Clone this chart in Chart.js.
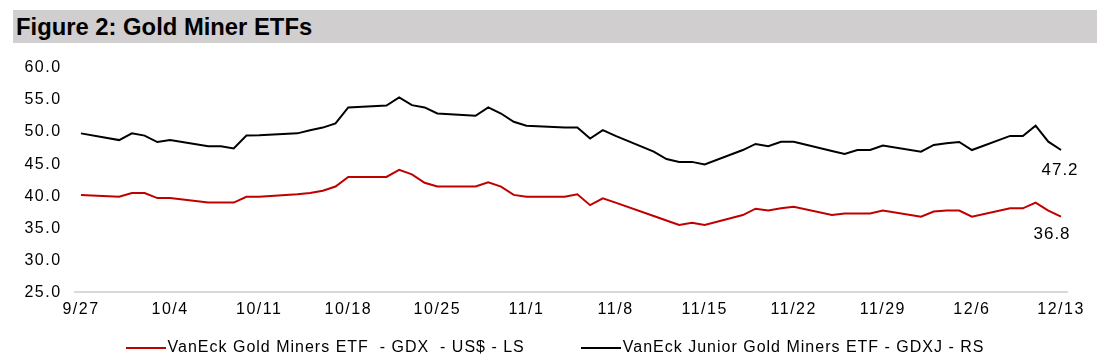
<!DOCTYPE html>
<html>
<head>
<meta charset="utf-8">
<script src="https://cdn.jsdelivr.net/npm/chart.js@4.4.1/dist/chart.umd.min.js"></script>
<style>
    html, body { margin: 0; padding: 0; background: #fff; }
    #wrap { position: relative; width: 1110px; height: 364px; overflow: hidden; }
    #title {
        position: absolute; left: 13px; top: 10px; width: 1084px; height: 33px;
        background: #d0cece; color: #000; box-sizing: border-box; padding-left: 3px;
        font: bold 23.8px "Liberation Sans", Arial, sans-serif; line-height: 34px;
    }
    #chart { position: absolute; left: 0; top: 0; }
    #legend {
        position: absolute; left: 0; top: 338px; width: 1110px; text-align: center;
        font: 16px "Liberation Sans", Arial, sans-serif; color: #000; white-space: pre;
        letter-spacing: 1px;
    }
    .item { display: inline-block; margin: 0 28px; }
    .swatch { display: inline-block; width: 40px; height: 2px; vertical-align: middle; margin-right: 2px; }
</style>
</head>
<body>
<div id="wrap">
    <canvas id="chart" width="1110" height="364"></canvas>
    <div id="title">Figure 2: Gold Miner ETFs</div>
    <div id="legend"></div>
</div>
<script>
// trading days shown (2024)
const dates = [
    '9/27', '9/30', '10/1', '10/2', '10/3', '10/4', '10/7', '10/8', '10/9', '10/10', '10/11',
    '10/14', '10/15', '10/16', '10/17', '10/18', '10/21', '10/22', '10/23', '10/24', '10/25',
    '10/28', '10/29', '10/30', '10/31', '11/1', '11/4', '11/5', '11/6', '11/7', '11/8',
    '11/11', '11/12', '11/13', '11/14', '11/15', '11/18', '11/19', '11/20', '11/21', '11/22',
    '11/25', '11/26', '11/27', '11/28', '11/29', '12/2', '12/3', '12/4', '12/5', '12/6',
    '12/9', '12/10', '12/11', '12/12', '12/13'
];

const gdx = [
    40.2, 39.9, 40.5, 40.5, 39.7, 39.7, 39.0, 39.0, 39.0, 39.9, 39.9,
    40.3, 40.5, 40.85, 41.5, 43.0, 43.0, 44.1, 43.4, 42.1, 41.5,
    41.5, 42.15, 41.5, 40.2, 39.9, 39.9, 40.3, 38.6, 39.65, 39.0,
    36.9, 36.2, 35.5, 35.85, 35.5, 37.05, 38.05, 37.75, 38.1, 38.35,
    37.05, 37.3, 37.3, 37.3, 37.75, 36.8, 37.6, 37.75, 37.75, 36.8,
    38.1, 38.1, 39.0, 37.75, 36.8
];

const gdxj = [
    49.8, 48.75, 49.8, 49.45, 48.45, 48.75, 47.8, 47.8, 47.45, 49.45, 49.5,
    49.8, 50.3, 50.7, 51.35, 53.85, 54.15, 55.4, 54.2, 53.85, 52.9,
    52.55, 53.85, 52.9, 51.6, 51.0, 50.7, 50.7, 49.0, 50.3, 49.4,
    46.95, 45.8, 45.35, 45.35, 44.95, 47.2, 48.15, 47.8, 48.5, 48.5,
    47.05, 46.6, 47.2, 47.2, 47.9, 46.95, 48.0, 48.25, 48.45, 47.2,
    49.4, 49.4, 51.0, 48.5, 47.2
];

const tickLabels = ['9/27', '10/4', '10/11', '10/18', '10/25', '11/1', '11/8', '11/15', '11/22', '11/29', '12/6', '12/13'];
const yTicks = [25, 30, 35, 40, 45, 50, 55, 60];

const seriesNames = ['VanEck Gold Miners ETF  - GDX  - US$ - LS', 'VanEck Junior Gold Miners ETF - GDXJ - RS'];
const seriesColors = ['#c00000', '#000000'];

const YEAR = 2024;
const FONT = '"Liberation Sans", Arial, sans-serif';

// days since first date
function dayIndex(label) {
    const [m, d] = label.split('/').map(Number);
    const base = new Date(YEAR, 8, 27);
    return Math.round((new Date(YEAR, m - 1, d) - base) / 86400000);
}

const xDays = dates.map(dayIndex);
const tickDays = tickLabels.map(dayIndex);

// Excel-like wider text for the axis labels
const spacing = {
    id: 'spacing',
    beforeDraw(chart) {
        chart.ctx.letterSpacing = '1.5px';
    }
};

// end-of-line value labels
const endLabels = {
    id: 'endLabels',
    afterDatasetsDraw(chart) {
        const ctx = chart.ctx;
        const offsets = [{ dx: -9, dy: 18 }, { dx: -1, dy: 20 }];
        ctx.save();
        ctx.letterSpacing = '1px';
        ctx.font = '17px ' + FONT;
        ctx.fillStyle = '#000';
        ctx.textAlign = 'center';
        ctx.textBaseline = 'middle';
        chart.data.datasets.forEach((ds, i) => {
            const pts = chart.getDatasetMeta(i).data;
            const last = pts[pts.length - 1];
            const val = ds.data[ds.data.length - 1].y;
            ctx.fillText(val.toFixed(1), last.x + offsets[i].dx, last.y + offsets[i].dy);
        });
        ctx.restore();
    }
};

const chart = new Chart(document.getElementById('chart'), {
    type: 'line',
    data: {
        datasets: [
            {
                label: seriesNames[0],
                data: xDays.map((x, i) => ({ x, y: gdx[i] })),
                borderColor: seriesColors[0],
                backgroundColor: seriesColors[0],
                borderWidth: 2,
                pointRadius: 0,
                tension: 0
            },
            {
                label: seriesNames[1],
                data: xDays.map((x, i) => ({ x, y: gdxj[i] })),
                borderColor: seriesColors[1],
                backgroundColor: seriesColors[1],
                borderWidth: 2,
                pointRadius: 0,
                tension: 0
            }
        ]
    },
    options: {
        responsive: false,
        animation: false,
        layout: { padding: { top: 68, right: 42.6, bottom: 41.7, left: 0 } },
        plugins: {
            legend: { display: false },
            tooltip: { enabled: false }
        },
        scales: {
            x: {
                type: 'linear',
                min: -0.5,
                max: tickDays[tickDays.length - 1] + 0.5,
                afterBuildTicks: (scale) => {
                    scale.ticks = tickDays.map(v => ({ value: v }));
                },
                afterFit: (scale) => { scale.height = 30; },
                grid: { display: false, drawTicks: false },
                border: { display: true, color: '#d9d9d9', width: 2 },
                ticks: {
                    autoSkip: false,
                    maxRotation: 0,
                    padding: 8,
                    color: '#000',
                    font: { family: FONT, size: 16 },
                    callback: (value) => tickLabels[tickDays.indexOf(value)]
                }
            },
            y: {
                min: yTicks[0],
                max: yTicks[yTicks.length - 1],
                afterBuildTicks: (scale) => {
                    scale.ticks = yTicks.map(v => ({ value: v }));
                },
                afterFit: (scale) => { scale.width = 74.6; },
                grid: { display: false, drawTicks: false },
                border: { display: false },
                ticks: {
                    padding: 13,
                    color: '#000',
                    font: { family: FONT, size: 16 },
                    callback: (value) => value.toFixed(1)
                }
            }
        }
    },
    plugins: [spacing, endLabels]
});

// legend
document.getElementById('legend').innerHTML = seriesNames.map((name, i) =>
    `<span class="item"><span class="swatch" style="background:${seriesColors[i]}"></span>${name}</span>`
).join('');
</script>
</body>
</html>
